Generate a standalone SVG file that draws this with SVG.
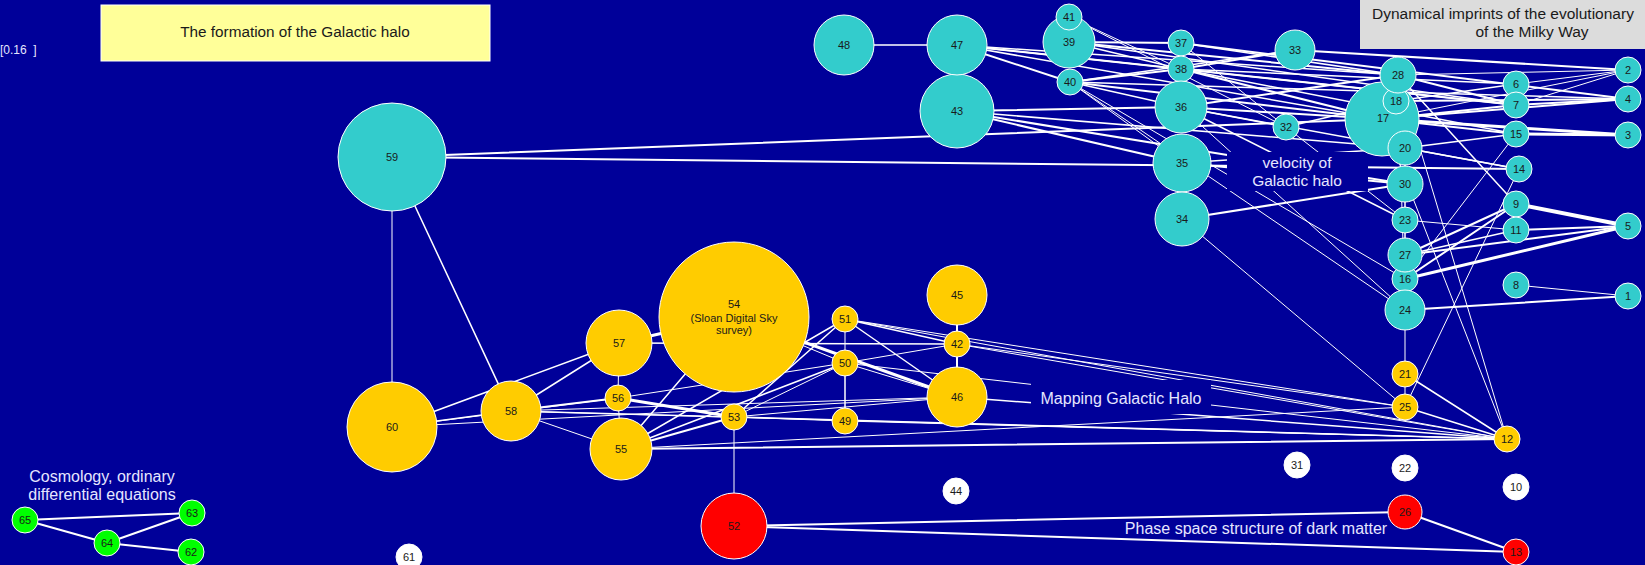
<svg xmlns="http://www.w3.org/2000/svg" width="1645" height="565" viewBox="0 0 1645 565">
<defs>
<style>
.bg{fill:#000099}
.e{stroke:#fff;stroke-linecap:round;fill:none}
.w1{stroke-width:1}
.w15{stroke-width:1.5}
.w2{stroke-width:2}
.w3{stroke-width:3}
.w4{stroke-width:4}
.n{stroke:#fff;stroke-width:1}
.teal{fill:#33cccc}
.yel{fill:#ffcc00}
.red{fill:#ff0000}
.grn{fill:#00ff00}
.wht{fill:#ffffff}
.t{font-family:"Liberation Sans",Arial,sans-serif;font-size:11px;fill:#1a1a1a;text-anchor:middle}
.lab{font-family:"Liberation Sans",Arial,sans-serif;font-size:16px;fill:#e6e6ff;text-anchor:middle}
.lb{fill:#000099}
</style>
</defs>
<rect class="bg" x="0" y="0" width="1645" height="565"/>

<g id="connectors">
<line class="e w15" x1="844" y1="45" x2="957" y2="45"/>
<line class="e w2" x1="957" y1="45" x2="1181" y2="69"/>
<line class="e w2" x1="957" y1="45" x2="1070" y2="82"/>
<line class="e w15" x1="957" y1="45" x2="1398" y2="75"/>
<line class="e w15" x1="957" y1="45" x2="1382" y2="119"/>
<line class="e w15" x1="957" y1="45" x2="1516" y2="105"/>
<line class="e w2" x1="1069" y1="42" x2="1181" y2="43"/>
<line class="e w15" x1="1069" y1="42" x2="1181" y2="69"/>
<line class="e w2" x1="1069" y1="42" x2="1398" y2="75"/>
<line class="e w15" x1="1069" y1="42" x2="1516" y2="105"/>
<line class="e w1" x1="1069" y1="17" x2="1181" y2="69"/>
<line class="e w1" x1="1069" y1="17" x2="1286" y2="127"/>
<line class="e w2" x1="1070" y1="82" x2="1181" y2="69"/>
<line class="e w15" x1="1070" y1="82" x2="1295" y2="50"/>
<line class="e w2" x1="1070" y1="82" x2="1382" y2="119"/>
<line class="e w15" x1="1070" y1="82" x2="1628" y2="99"/>
<line class="e w15" x1="1070" y1="82" x2="1181" y2="107"/>
<line class="e w1" x1="1070" y1="82" x2="1182" y2="163"/>
<line class="e w1" x1="1070" y1="82" x2="1405" y2="279"/>
<line class="e w1" x1="1070" y1="82" x2="1405" y2="310"/>
<line class="e w2" x1="957" y1="111" x2="1181" y2="107"/>
<line class="e w2" x1="957" y1="111" x2="1182" y2="163"/>
<line class="e w2" x1="957" y1="111" x2="1405" y2="184"/>
<line class="e w15" x1="957" y1="111" x2="1405" y2="148"/>
<line class="e w2" x1="392" y1="157" x2="1519" y2="169"/>
<line class="e w2" x1="392" y1="157" x2="1382" y2="119"/>
<line class="e w1" x1="392" y1="157" x2="392" y2="427"/>
<line class="e w15" x1="392" y1="157" x2="511" y2="411"/>
<line class="e w1" x1="1181" y1="43" x2="1286" y2="127"/>
<line class="e w2" x1="1181" y1="43" x2="1628" y2="99"/>
<line class="e w15" x1="1181" y1="43" x2="1398" y2="75"/>
<line class="e w2" x1="1295" y1="50" x2="1628" y2="70"/>
<line class="e w2" x1="1181" y1="69" x2="1295" y2="50"/>
<line class="e w2" x1="1181" y1="69" x2="1382" y2="119"/>
<line class="e w15" x1="1181" y1="69" x2="1516" y2="84"/>
<line class="e w2" x1="1181" y1="69" x2="1516" y2="105"/>
<line class="e w15" x1="1181" y1="69" x2="1516" y2="134"/>
<line class="e w2" x1="1181" y1="107" x2="1398" y2="75"/>
<line class="e w2" x1="1181" y1="107" x2="1382" y2="119"/>
<line class="e w15" x1="1181" y1="107" x2="1286" y2="127"/>
<line class="e w15" x1="1181" y1="107" x2="1519" y2="169"/>
<line class="e w15" x1="1181" y1="107" x2="1405" y2="220"/>
<line class="e w1" x1="1181" y1="107" x2="1405" y2="310"/>
<line class="e w15" x1="1286" y1="127" x2="1396" y2="101"/>
<line class="e w1" x1="1286" y1="127" x2="1405" y2="220"/>
<line class="e w2" x1="1182" y1="163" x2="1405" y2="184"/>
<line class="e w15" x1="1182" y1="163" x2="1405" y2="148"/>
<line class="e w2" x1="1182" y1="219" x2="1405" y2="184"/>
<line class="e w1" x1="1182" y1="219" x2="1405" y2="407"/>
<line class="e w1" x1="1398" y1="75" x2="1628" y2="70"/>
<line class="e w15" x1="1398" y1="75" x2="1516" y2="204"/>
<line class="e w2" x1="1398" y1="75" x2="1516" y2="105"/>
<line class="e w1" x1="1398" y1="75" x2="1507" y2="439"/>
<line class="e w1" x1="1398" y1="75" x2="1405" y2="310"/>
<line class="e w15" x1="1396" y1="101" x2="1516" y2="84"/>
<line class="e w2" x1="1396" y1="101" x2="1628" y2="99"/>
<line class="e w1" x1="1382" y1="119" x2="1628" y2="70"/>
<line class="e w2" x1="1382" y1="119" x2="1628" y2="99"/>
<line class="e w2" x1="1382" y1="119" x2="1516" y2="105"/>
<line class="e w2" x1="1382" y1="119" x2="1516" y2="134"/>
<line class="e w3" x1="1382" y1="119" x2="1628" y2="135"/>
<line class="e w1" x1="1382" y1="119" x2="1507" y2="439"/>
<line class="e w15" x1="1405" y1="148" x2="1519" y2="169"/>
<line class="e w15" x1="1405" y1="148" x2="1516" y2="134"/>
<line class="e w1" x1="1405" y1="148" x2="1405" y2="310"/>
<line class="e w3" x1="1516" y1="134" x2="1628" y2="135"/>
<line class="e w1" x1="1516" y1="134" x2="1405" y2="279"/>
<line class="e w1" x1="1519" y1="169" x2="1405" y2="407"/>
<line class="e w1" x1="1516" y1="84" x2="1628" y2="70"/>
<line class="e w2" x1="1516" y1="105" x2="1628" y2="99"/>
<line class="e w1" x1="1516" y1="105" x2="1628" y2="70"/>
<line class="e w4" x1="1516" y1="204" x2="1628" y2="226"/>
<line class="e w2" x1="1516" y1="204" x2="1405" y2="255"/>
<line class="e w2" x1="1516" y1="204" x2="1405" y2="279"/>
<line class="e w2" x1="1516" y1="230" x2="1628" y2="226"/>
<line class="e w1" x1="1516" y1="230" x2="1405" y2="220"/>
<line class="e w2" x1="1405" y1="255" x2="1628" y2="226"/>
<line class="e w3" x1="1405" y1="279" x2="1628" y2="226"/>
<line class="e w15" x1="1405" y1="255" x2="1516" y2="230"/>
<line class="e w1" x1="1516" y1="285" x2="1628" y2="296"/>
<line class="e w2" x1="1405" y1="310" x2="1628" y2="296"/>
<line class="e w1" x1="1405" y1="310" x2="1405" y2="374"/>
<line class="e w1" x1="1405" y1="184" x2="1405" y2="279"/>
<line class="e w1" x1="1405" y1="148" x2="1405" y2="184"/>

<line class="e w15" x1="392" y1="427" x2="511" y2="411"/>
<line class="e w15" x1="392" y1="427" x2="619" y2="343"/>
<line class="e w1" x1="392" y1="427" x2="618" y2="398"/>
<line class="e w1" x1="392" y1="427" x2="957" y2="397"/>
<line class="e w15" x1="511" y1="411" x2="619" y2="343"/>
<line class="e w2" x1="511" y1="411" x2="618" y2="398"/>
<line class="e w15" x1="511" y1="411" x2="734" y2="417"/>
<line class="e w1" x1="511" y1="411" x2="621" y2="449"/>
<line class="e w1" x1="511" y1="411" x2="957" y2="397"/>
<line class="e w1" x1="511" y1="411" x2="1507" y2="439"/>
<line class="e w1" x1="619" y1="343" x2="618" y2="398"/>
<line class="e w3" x1="619" y1="343" x2="734" y2="317"/>
<line class="e w15" x1="619" y1="343" x2="957" y2="344"/>
<line class="e w1" x1="618" y1="398" x2="621" y2="449"/>
<line class="e w3" x1="618" y1="398" x2="734" y2="417"/>
<line class="e w1" x1="618" y1="398" x2="845" y2="363"/>
<line class="e w2" x1="621" y1="449" x2="734" y2="417"/>
<line class="e w15" x1="621" y1="449" x2="845" y2="319"/>
<line class="e w15" x1="621" y1="449" x2="845" y2="363"/>
<line class="e w15" x1="621" y1="449" x2="734" y2="317"/>
<line class="e w2" x1="621" y1="449" x2="1507" y2="439"/>
<line class="e w1" x1="621" y1="449" x2="1405" y2="407"/>
<line class="e w3" x1="734" y1="317" x2="957" y2="397"/>
<line class="e w1" x1="734" y1="317" x2="845" y2="363"/>
<line class="e w1" x1="845" y1="319" x2="845" y2="363"/>
<line class="e w15" x1="845" y1="319" x2="957" y2="344"/>
<line class="e w15" x1="845" y1="319" x2="957" y2="397"/>
<line class="e w15" x1="845" y1="319" x2="734" y2="417"/>
<line class="e w1" x1="845" y1="319" x2="1507" y2="439"/>
<line class="e w1" x1="845" y1="319" x2="1405" y2="407"/>
<line class="e w1" x1="845" y1="363" x2="957" y2="344"/>
<line class="e w1" x1="845" y1="363" x2="957" y2="397"/>
<line class="e w1" x1="845" y1="363" x2="734" y2="417"/>
<line class="e w1" x1="845" y1="363" x2="1507" y2="439"/>
<line class="e w15" x1="845" y1="421" x2="845" y2="363"/>
<line class="e w2" x1="957" y1="344" x2="957" y2="295"/>
<line class="e w2" x1="957" y1="344" x2="957" y2="397"/>
<line class="e w1" x1="957" y1="344" x2="1507" y2="439"/>
<line class="e w1" x1="957" y1="344" x2="1405" y2="407"/>
<line class="e w15" x1="957" y1="397" x2="1507" y2="439"/>
<line class="e w1" x1="957" y1="397" x2="734" y2="417"/>
<line class="e w15" x1="734" y1="417" x2="1507" y2="439"/>
<line class="e w1" x1="734" y1="417" x2="845" y2="421"/>
<line class="e w1" x1="734" y1="417" x2="734" y2="526"/>
<line class="e w1" x1="845" y1="421" x2="1507" y2="439"/>
<line class="e w1" x1="1405" y1="374" x2="1405" y2="407"/>
<line class="e w15" x1="1405" y1="374" x2="1507" y2="439"/>
<line class="e w15" x1="1405" y1="407" x2="1507" y2="439"/>
<line class="e w2" x1="734" y1="526" x2="1405" y2="512"/>
<line class="e w2" x1="734" y1="526" x2="1516" y2="552"/>
<line class="e w2" x1="1405" y1="512" x2="1516" y2="552"/>
<line class="e w2" x1="25" y1="520" x2="192" y2="513"/>
<line class="e w2" x1="25" y1="520" x2="107" y2="543"/>
<line class="e w2" x1="107" y1="543" x2="192" y2="513"/>
<line class="e w2" x1="107" y1="543" x2="191" y2="552"/>
</g>

<g id="labels">
<text x="0" y="54" xml:space="preserve" style="font-family:'Liberation Sans',Arial,sans-serif;font-size:12px;fill:#e6e6ff">[0.16  ]</text>
<rect x="101" y="5" width="389" height="56" fill="#ffff99" stroke="#fff" stroke-width="1"/>
<text x="295" y="37" style="font-family:'Liberation Sans',Arial,sans-serif;font-size:15.3px;fill:#1a1a1a;text-anchor:middle">The formation of the Galactic halo</text>
<rect x="1360" y="0" width="285" height="49" fill="#dcdcdc"/>
<text x="1372" y="19" style="font-family:'Liberation Sans',Arial,sans-serif;font-size:15.5px;fill:#1a1a1a">Dynamical imprints of the evolutionary</text>
<text x="1532" y="37" style="font-family:'Liberation Sans',Arial,sans-serif;font-size:15.5px;fill:#1a1a1a;text-anchor:middle">of the Milky Way</text>
<rect class="lb" x="1227" y="152" width="141" height="39"/>
<text class="lab" x="1297" y="168" style="font-size:15.5px">velocity of</text>
<text class="lab" x="1297" y="186" style="font-size:15.5px">Galactic halo</text>
<rect class="lb" x="1031" y="380" width="180" height="34"/>
<text class="lab" x="1121" y="404">Mapping Galactic Halo</text>
<text class="lab" x="1256" y="534">Phase space structure of dark matter</text>
<text class="lab" x="102" y="482">Cosmology, ordinary</text>
<text class="lab" x="102" y="500">differential equations</text>
</g>

<g id="node-48"><circle class="n teal" cx="844" cy="45" r="30"/><text class="t" x="844" y="49">48</text></g>
<g id="node-43"><circle class="n teal" cx="957" cy="111" r="37"/><text class="t" x="957" y="115">43</text></g>
<g id="node-47"><circle class="n teal" cx="957" cy="45" r="30"/><text class="t" x="957" y="49">47</text></g>
<g id="node-39"><circle class="n teal" cx="1069" cy="42" r="26"/><text class="t" x="1069" y="46">39</text></g>
<g id="node-41"><circle class="n teal" cx="1069" cy="17" r="13"/><text class="t" x="1069" y="21">41</text></g>
<g id="node-40"><circle class="n teal" cx="1070" cy="82" r="13"/><text class="t" x="1070" y="86">40</text></g>
<g id="node-37"><circle class="n teal" cx="1181" cy="43" r="13"/><text class="t" x="1181" y="47">37</text></g>
<g id="node-38"><circle class="n teal" cx="1181" cy="69" r="13"/><text class="t" x="1181" y="73">38</text></g>
<g id="node-36"><circle class="n teal" cx="1181" cy="107" r="26"/><text class="t" x="1181" y="111">36</text></g>
<g id="node-35"><circle class="n teal" cx="1182" cy="163" r="29"/><text class="t" x="1182" y="167">35</text></g>
<g id="node-34"><circle class="n teal" cx="1182" cy="219" r="27"/><text class="t" x="1182" y="223">34</text></g>
<g id="node-33"><circle class="n teal" cx="1295" cy="50" r="20"/><text class="t" x="1295" y="54">33</text></g>
<g id="node-32"><circle class="n teal" cx="1286" cy="127" r="13"/><text class="t" x="1286" y="131">32</text></g>
<g id="node-17"><circle class="n teal" cx="1382" cy="119" r="37"/><text class="t" x="1383" y="122">17</text></g>
<g id="node-18"><circle class="n teal" cx="1396" cy="101" r="13"/><text class="t" x="1396" y="105">18</text></g>
<g id="node-28"><circle class="n teal" cx="1398" cy="75" r="18"/><text class="t" x="1398" y="79">28</text></g>
<g id="node-20"><circle class="n teal" cx="1405" cy="148" r="17"/><text class="t" x="1405" y="152">20</text></g>
<g id="node-30"><circle class="n teal" cx="1405" cy="184" r="18"/><text class="t" x="1405" y="188">30</text></g>
<g id="node-23"><circle class="n teal" cx="1405" cy="220" r="13"/><text class="t" x="1405" y="224">23</text></g>
<g id="node-16"><circle class="n teal" cx="1405" cy="279" r="13"/><text class="t" x="1405" y="283">16</text></g>
<g id="node-27"><circle class="n teal" cx="1405" cy="255" r="17"/><text class="t" x="1405" y="259">27</text></g>
<g id="node-24"><circle class="n teal" cx="1405" cy="310" r="20"/><text class="t" x="1405" y="314">24</text></g>
<g id="node-6"><circle class="n teal" cx="1516" cy="84" r="13"/><text class="t" x="1516" y="88">6</text></g>
<g id="node-7"><circle class="n teal" cx="1516" cy="105" r="13"/><text class="t" x="1516" y="109">7</text></g>
<g id="node-15"><circle class="n teal" cx="1516" cy="134" r="13"/><text class="t" x="1516" y="138">15</text></g>
<g id="node-14"><circle class="n teal" cx="1519" cy="169" r="13"/><text class="t" x="1519" y="173">14</text></g>
<g id="node-9"><circle class="n teal" cx="1516" cy="204" r="13"/><text class="t" x="1516" y="208">9</text></g>
<g id="node-11"><circle class="n teal" cx="1516" cy="230" r="13"/><text class="t" x="1516" y="234">11</text></g>
<g id="node-8"><circle class="n teal" cx="1516" cy="285" r="13"/><text class="t" x="1516" y="289">8</text></g>
<g id="node-2"><circle class="n teal" cx="1628" cy="70" r="13"/><text class="t" x="1628" y="74">2</text></g>
<g id="node-4"><circle class="n teal" cx="1628" cy="99" r="13"/><text class="t" x="1628" y="103">4</text></g>
<g id="node-3"><circle class="n teal" cx="1628" cy="135" r="13"/><text class="t" x="1628" y="139">3</text></g>
<g id="node-5"><circle class="n teal" cx="1628" cy="226" r="13"/><text class="t" x="1628" y="230">5</text></g>
<g id="node-1"><circle class="n teal" cx="1628" cy="296" r="13"/><text class="t" x="1628" y="300">1</text></g>
<g id="node-59"><circle class="n teal" cx="392" cy="157" r="54"/><text class="t" x="392" y="161">59</text></g>

<g id="node-54"><circle class="n yel" cx="734" cy="317" r="75"/><text class="t" x="734" y="308">54</text><text class="t" x="734" y="322">(Sloan Digital Sky</text><text class="t" x="734" y="334">survey)</text></g>
<g id="node-57"><circle class="n yel" cx="619" cy="343" r="33"/><text class="t" x="619" y="347">57</text></g>
<g id="node-56"><circle class="n yel" cx="618" cy="398" r="13"/><text class="t" x="618" y="402">56</text></g>
<g id="node-55"><circle class="n yel" cx="621" cy="449" r="31"/><text class="t" x="621" y="453">55</text></g>
<g id="node-53"><circle class="n yel" cx="734" cy="417" r="13"/><text class="t" x="734" y="421">53</text></g>
<g id="node-51"><circle class="n yel" cx="845" cy="319" r="13"/><text class="t" x="845" y="323">51</text></g>
<g id="node-50"><circle class="n yel" cx="845" cy="363" r="13"/><text class="t" x="845" y="367">50</text></g>
<g id="node-49"><circle class="n yel" cx="845" cy="421" r="13"/><text class="t" x="845" y="425">49</text></g>
<g id="node-45"><circle class="n yel" cx="957" cy="295" r="30"/><text class="t" x="957" y="299">45</text></g>
<g id="node-42"><circle class="n yel" cx="957" cy="344" r="13"/><text class="t" x="957" y="348">42</text></g>
<g id="node-46"><circle class="n yel" cx="957" cy="397" r="30"/><text class="t" x="957" y="401">46</text></g>
<g id="node-58"><circle class="n yel" cx="511" cy="411" r="30"/><text class="t" x="511" y="415">58</text></g>
<g id="node-60"><circle class="n yel" cx="392" cy="427" r="45"/><text class="t" x="392" y="431">60</text></g>
<g id="node-21"><circle class="n yel" cx="1405" cy="374" r="13"/><text class="t" x="1405" y="378">21</text></g>
<g id="node-25"><circle class="n yel" cx="1405" cy="407" r="13"/><text class="t" x="1405" y="411">25</text></g>
<g id="node-12"><circle class="n yel" cx="1507" cy="439" r="13"/><text class="t" x="1507" y="443">12</text></g>

<g id="node-31"><circle class="n wht" cx="1297" cy="465" r="13"/><text class="t" x="1297" y="469">31</text></g>
<g id="node-22"><circle class="n wht" cx="1405" cy="468" r="13"/><text class="t" x="1405" y="472">22</text></g>
<g id="node-10"><circle class="n wht" cx="1516" cy="487" r="13"/><text class="t" x="1516" y="491">10</text></g>
<g id="node-44"><circle class="n wht" cx="956" cy="491" r="13"/><text class="t" x="956" y="495">44</text></g>
<g id="node-61"><circle class="n wht" cx="409" cy="557" r="13"/><text class="t" x="409" y="561">61</text></g>

<g id="node-52"><circle class="n red" cx="734" cy="526" r="33"/><text class="t" x="734" y="530">52</text></g>
<g id="node-26"><circle class="n red" cx="1405" cy="512" r="17"/><text class="t" x="1405" y="516">26</text></g>
<g id="node-13"><circle class="n red" cx="1516" cy="552" r="13"/><text class="t" x="1516" y="556">13</text></g>

<g id="node-65"><circle class="n grn" cx="25" cy="520" r="13"/><text class="t" x="25" y="524">65</text></g>
<g id="node-64"><circle class="n grn" cx="107" cy="543" r="13"/><text class="t" x="107" y="547">64</text></g>
<g id="node-63"><circle class="n grn" cx="192" cy="513" r="13"/><text class="t" x="192" y="517">63</text></g>
<g id="node-62"><circle class="n grn" cx="191" cy="552" r="13"/><text class="t" x="191" y="556">62</text></g>
</svg>
